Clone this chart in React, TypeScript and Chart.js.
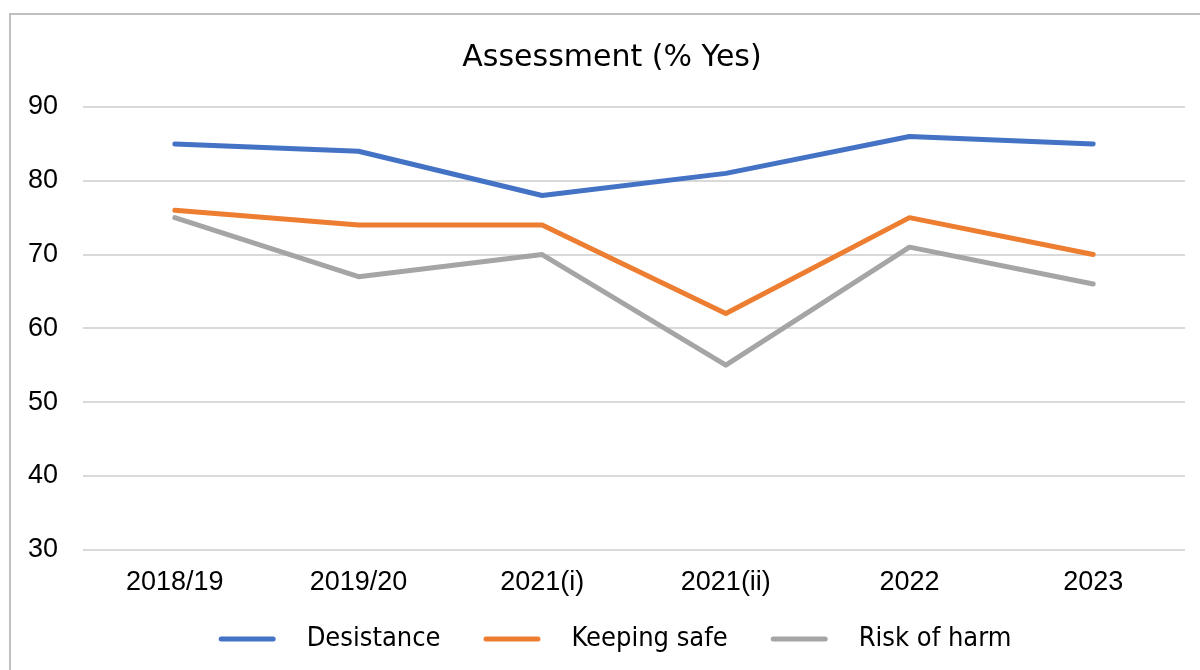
import React, { useEffect, useRef } from "react";
import { Chart, registerables } from "chart.js";

Chart.register(...registerables);

const categories = ["2018/19", "2019/20", "2021(i)", "2021(ii)", "2022", "2023"];
const desistance = [85, 84, 78, 81, 86, 85];
const keepingSafe = [76, 74, 74, 62, 75, 70];
const riskOfHarm = [75, 67, 70, 55, 71, 66];
const seriesLabels = ["Desistance", "Keeping safe", "Risk of harm"];
const seriesColors = ["#4472C4", "#ED7D31", "#A5A5A5"];
const titleText = "Assessment (% Yes)";
const yMin = 30;
const yMax = 90;
const yStep = 10;

const LEGEND_CX = 615;
const LEGEND_Y = 639;
const LEGEND_FONT = '27px "DejaVu Sans Condensed", "DejaVu Sans", sans-serif';

// Centre the title across the whole frame rather than the padded area.
const titleSpan = {
  id: "titleSpan",
  afterLayout(chart: any) {
    if (chart.titleBlock) {
      chart.titleBlock.left = 0;
      chart.titleBlock.right = chart.width;
    }
  },
};

const lineLegend = {
  id: "lineLegend",
  afterDraw(chart: any) {
    const ctx = chart.ctx as CanvasRenderingContext2D;
    ctx.save();
    ctx.font = LEGEND_FONT;
    const lineLen = 57;
    const gapText = 31;
    const gapItem = 43;
    const items = chart.data.datasets.map((ds: any) => ({
      label: ds.label as string,
      color: ds.borderColor as string,
      w: ctx.measureText(ds.label).width,
    }));
    const total =
      items.reduce((s: number, it: any) => s + lineLen + gapText + it.w, 0) +
      gapItem * (items.length - 1);
    let x = LEGEND_CX - total / 2;
    ctx.textBaseline = "middle";
    ctx.textAlign = "left";
    items.forEach((it: any) => {
      ctx.strokeStyle = it.color;
      ctx.lineWidth = 5;
      ctx.lineCap = "round";
      ctx.beginPath();
      ctx.moveTo(x + 2.5, LEGEND_Y);
      ctx.lineTo(x + lineLen - 2.5, LEGEND_Y);
      ctx.stroke();
      x += lineLen + gapText;
      ctx.fillStyle = "#000";
      ctx.fillText(it.label, x, LEGEND_Y);
      x += it.w + gapItem;
    });
    ctx.restore();
  },
};

export default function App() {
  const ref = useRef<HTMLCanvasElement>(null);

  useEffect(() => {
    const values = [desistance, keepingSafe, riskOfHarm];
    const tickFont = { family: '"Liberation Sans", Arial, sans-serif', size: 27 };
    const chart = new Chart(ref.current!, {
      type: "line",
      data: {
        labels: categories,
        datasets: seriesLabels.map((label, i) => ({
          label,
          data: values[i],
          borderColor: seriesColors[i],
          backgroundColor: seriesColors[i],
          borderWidth: 5,
          pointRadius: 0,
          pointHoverRadius: 0,
          tension: 0,
          borderCapStyle: "round" as const,
          borderJoinStyle: "round" as const,
          fill: false,
        })),
      },
      options: {
        responsive: false,
        animation: false,
        devicePixelRatio: 1,
        layout: { padding: { left: 0, right: 39, top: 0, bottom: 54 } },
        plugins: {
          legend: { display: false },
          tooltip: { enabled: false },
          title: {
            display: true,
            text: titleText,
            color: "#000",
            font: { family: '"DejaVu Sans", sans-serif', size: 30, weight: "normal", lineHeight: 1.2 },
            padding: { top: 40, bottom: 31 },
          },
        },
        scales: {
          x: {
            offset: true,
            grid: { display: false, drawTicks: false },
            border: { display: false },
            ticks: { color: "#000", font: tickFont, padding: 17, maxRotation: 0, autoSkip: false },
          },
          y: {
            min: yMin,
            max: yMax,
            grid: { color: "#d9d9d9", lineWidth: 2, drawTicks: false },
            border: { display: false },
            ticks: { stepSize: yStep, color: "#000", font: tickFont, padding: 25 },
            afterFit: (s: any) => {
              s.width = 83;
            },
          },
        },
      },
      plugins: [titleSpan, lineLegend],
    });
    return () => chart.destroy();
  }, []);

  return (
    <div
      style={{
        position: "absolute",
        left: 0,
        top: 0,
        width: 1200,
        height: 670,
        overflow: "hidden",
        background: "#fff",
      }}
    >
      <div
        style={{
          position: "absolute",
          left: 9,
          top: 13,
          width: 1230,
          height: 700,
          border: "2px solid #c0c0c0",
          boxSizing: "border-box",
        }}
      />
      <canvas
        ref={ref}
        width={1224}
        height={670}
        style={{ position: "absolute", left: 0, top: 0, width: 1224, height: 670 }}
      />
    </div>
  );
}
